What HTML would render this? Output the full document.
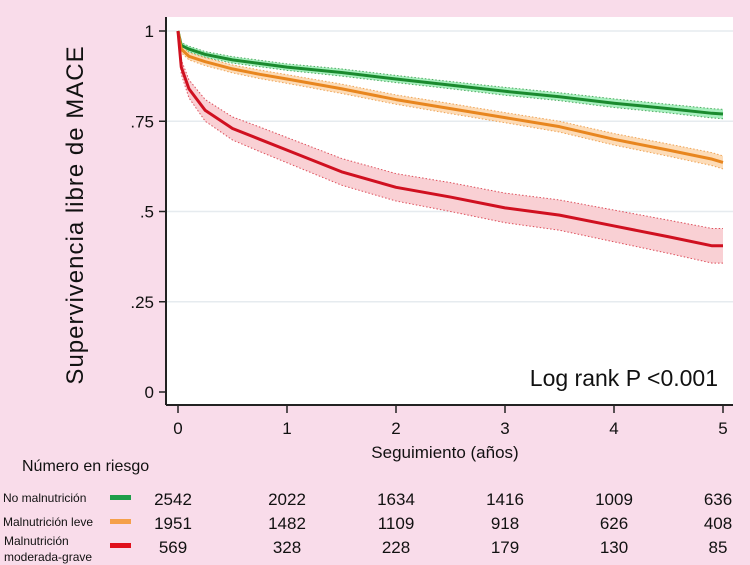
<!DOCTYPE html>
<html><head><meta charset="utf-8"><style>
body{margin:0;background:#f9dcea;}
svg{display:block;font-family:"Liberation Sans",sans-serif;}
</style></head><body>
<svg id="chart" width="750" height="565">
<rect x="0" y="0" width="750" height="565" fill="#f9dcea"/>
<rect x="166" y="17" width="567" height="388" fill="#ffffff"/>
<g id="grid"></g><g id="bands"></g><g id="lines"></g><g id="axes"></g>
<text x="83" y="215" transform="rotate(-90 83 215)" text-anchor="middle" font-size="24" letter-spacing="1" fill="#111">Supervivencia libre de MACE</text>
<text x="445" y="458" text-anchor="middle" font-size="17" fill="#111">Seguimiento (años)</text>
<text x="718" y="386" text-anchor="end" font-size="23" fill="#111">Log rank P &lt;0.001</text>
<text x="22" y="471" font-size="16" fill="#111">Número en riesgo</text>
<g id="risk"></g>
</svg>
<script>
const xTicks=[0,1,2,3,4,5];
const yTicks=[0,0.25,0.5,0.75,1];
const yTickLabels=["0",".25",".5",".75","1"];
const times=[0,0.03,0.1,0.25,0.5,0.75,1,1.5,2,2.5,3,3.5,4,4.5,4.9,5];
const greenS=[1,0.96,0.95,0.935,0.92,0.91,0.90,0.885,0.867,0.85,0.833,0.818,0.80,0.785,0.772,0.77];
const orangeS=[1,0.95,0.93,0.915,0.895,0.88,0.867,0.84,0.81,0.785,0.76,0.735,0.70,0.67,0.645,0.636];
const redS=[1,0.9,0.84,0.78,0.73,0.70,0.67,0.61,0.567,0.54,0.51,0.49,0.46,0.43,0.405,0.405];
const greenCI=[0,0.008,0.008,0.008,0.009,0.009,0.009,0.01,0.01,0.01,0.011,0.011,0.012,0.012,0.013,0.013];
const orangeCI=[0,0.01,0.01,0.011,0.011,0.012,0.012,0.013,0.013,0.014,0.014,0.015,0.016,0.017,0.018,0.018];
const redCI=[0,0.02,0.025,0.03,0.032,0.034,0.035,0.037,0.038,0.04,0.041,0.042,0.044,0.046,0.048,0.048];
const groups=["No malnutrición","Malnutrición leve","Malnutrición moderada-grave"];
const riskGreen=[2542,2022,1634,1416,1009,636];
const riskOrange=[1951,1482,1109,918,626,408];
const riskRed=[569,328,228,179,130,85];
const NS="http://www.w3.org/2000/svg";
const X=t=>178+t*109, Y=v=>392-v*361;
function mk(tag,attrs,parent,txt){const e=document.createElementNS(NS,tag);for(const k in attrs)e.setAttribute(k,attrs[k]);if(txt!==undefined)e.textContent=txt;document.getElementById(parent).appendChild(e);return e;}
yTicks.forEach((v,i)=>{
 if(v>0){const g=mk('line',{x1:166,x2:733,y1:Y(v),y2:Y(v),stroke:'#e6ebef','stroke-width':1.5},'grid');
 
 }
 const t=mk('line',{x1:159,x2:166,y1:Y(v),y2:Y(v),stroke:'#222','stroke-width':1.5},'axes');
 
 
 const l=mk('text',{x:154,y:Y(v)+6,'text-anchor':'end','font-size':17,fill:'#111'},'axes',yTickLabels[i]);
 
 
});
xTicks.forEach(v=>{
 const t=mk('line',{x1:X(v),x2:X(v),y1:405,y2:413,stroke:'#222','stroke-width':1.5},'axes');
 
 
 const l=mk('text',{x:X(v),y:434,'text-anchor':'middle','font-size':17,fill:'#111'},'axes',String(v));
 
 
});
const ya=mk('line',{x1:166,x2:166,y1:17,y2:405,stroke:'#222','stroke-width':2},'axes');


const xa=mk('line',{x1:166,x2:733,y1:405,y2:405,stroke:'#222','stroke-width':2},'axes');


function series(s,ci,col,fill,name){
 const up=times.map((t,i)=>X(t)+','+Y(s[i]+ci[i]));
 const lo=times.map((t,i)=>X(t)+','+Y(s[i]-ci[i])).reverse();
 const b=mk('polygon',{points:up.concat(lo).join(' '),fill:fill,stroke:'none'},'bands');
 
 
 [up,lo].forEach(p=>{const d=mk('polyline',{points:p.join(' '),fill:'none',stroke:col,'stroke-width':1,'stroke-dasharray':'1.5 2',opacity:0.7},'bands');
 
 });
 const l=mk('polyline',{points:times.map((t,i)=>X(t)+','+Y(s[i])).join(' '),fill:'none',stroke:col,'stroke-width':3,'stroke-linejoin':'round'},'lines');
 
 
}
series(greenS,greenCI,'#1a8a2e','#a8f0bf','no-malnutrition');
series(orangeS,orangeCI,'#e8861f','#fddcb8','mild-malnutrition');
series(redS,redCI,'#d01020','#f9d0d4','moderate-severe-malnutrition');
const rows=[riskGreen,riskOrange,riskRed], cols=['#1e9e4a','#f5a04a','#e0101c'], ys=[499,523,547];
const lab=mk('text',{x:3,y:502,'font-size':12,fill:'#111'},'risk','No malnutrición');


const lab2=mk('text',{x:3,y:526,'font-size':12,fill:'#111'},'risk','Malnutrición leve');


const lab3=mk('text',{x:4,y:545,'font-size':12,fill:'#111'},'risk','Malnutrición');


const lab4=mk('text',{x:4,y:561,'font-size':12,fill:'#111'},'risk','moderada-grave');


rows.forEach((r,ri)=>{
 const k=mk('rect',{x:110,y:ys[ri]-4,width:21,height:5,fill:cols[ri]},'risk');
 
 
 r.forEach((n,i)=>{
  const cx=i===5?718:X(xTicks[i])+ (i===0?-5:0);
  const t=mk('text',{x:cx,y:ys[ri]+6,'text-anchor':'middle','font-size':17,fill:'#111'},'risk',String(n));
  
  
 });
});
</script>
</body></html>
